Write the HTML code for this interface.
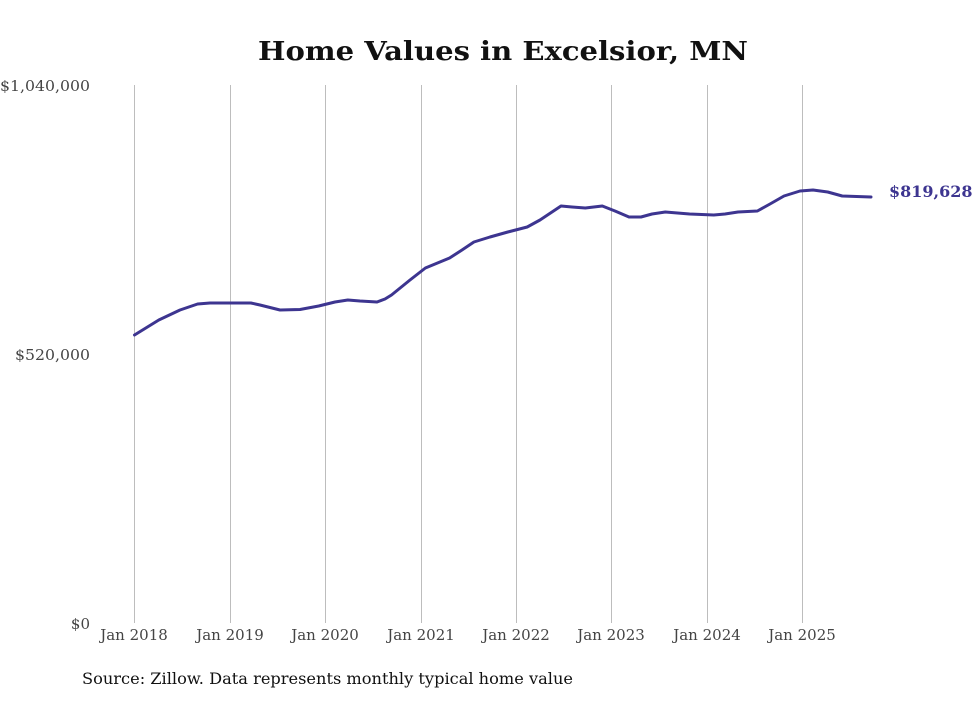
<!DOCTYPE html>
<html><head><meta charset="utf-8"><style>
html,body{margin:0;padding:0;background:#fff;}
</style></head><body>
<svg width="980" height="699" viewBox="0 0 980 699" xmlns="http://www.w3.org/2000/svg" font-family="DejaVu Serif, Liberation Serif, serif">
<rect width="980" height="699" fill="#fff"/>
<text x="503" y="60" text-anchor="middle" font-size="26" font-weight="bold" fill="#111" textLength="490" lengthAdjust="spacingAndGlyphs">Home Values in Excelsior, MN</text>
<g stroke="#bdbdbd" stroke-width="1">
<line x1="134.5" y1="85" x2="134.5" y2="623"/>
<line x1="230.5" y1="85" x2="230.5" y2="623"/>
<line x1="325.5" y1="85" x2="325.5" y2="623"/>
<line x1="421.5" y1="85" x2="421.5" y2="623"/>
<line x1="516.5" y1="85" x2="516.5" y2="623"/>
<line x1="611.5" y1="85" x2="611.5" y2="623"/>
<line x1="707.5" y1="85" x2="707.5" y2="623"/>
<line x1="802.5" y1="85" x2="802.5" y2="623"/>
</g>
<g font-size="15" fill="#444" text-anchor="end">
<text x="90" y="91" textLength="90" lengthAdjust="spacingAndGlyphs">$1,040,000</text>
<text x="90" y="360" textLength="75" lengthAdjust="spacingAndGlyphs">$520,000</text>
<text x="90" y="629">$0</text>
</g>
<g font-size="15" fill="#444" text-anchor="middle">
<text x="134" y="640">Jan 2018</text>
<text x="230" y="640">Jan 2019</text>
<text x="325" y="640">Jan 2020</text>
<text x="421" y="640">Jan 2021</text>
<text x="516" y="640">Jan 2022</text>
<text x="611" y="640">Jan 2023</text>
<text x="707" y="640">Jan 2024</text>
<text x="802" y="640">Jan 2025</text>
</g>
<polyline fill="none" stroke="#3d3590" stroke-width="3" stroke-linejoin="round" stroke-linecap="round"
points="134.5,335 158.8,320 180,310 197.6,304 210,303 250.9,303 260,305 280,310 300,309.5 318.7,306 335,302 347.8,300 360,301 377,302 385,299 391.5,295 410,280 425.4,268 449.6,258 462,250 473.9,242 490,237 507.8,232 527.2,227 540,220 561,206 572,207 585.3,208 602.3,206 615,211 629,217 641,217 652,214 665.3,212 689.6,214 713.8,215 725,214 738,212 757.4,211 770,204 784,196 800,191 813,190 827.7,192 842.2,196 871,197"/>
<text x="889" y="197" font-size="16" font-weight="bold" fill="#3d3590">$819,628</text>
<text x="82" y="684" font-size="16" fill="#111" textLength="491" lengthAdjust="spacingAndGlyphs">Source: Zillow. Data represents monthly typical home value</text>
</svg>
</body></html>
